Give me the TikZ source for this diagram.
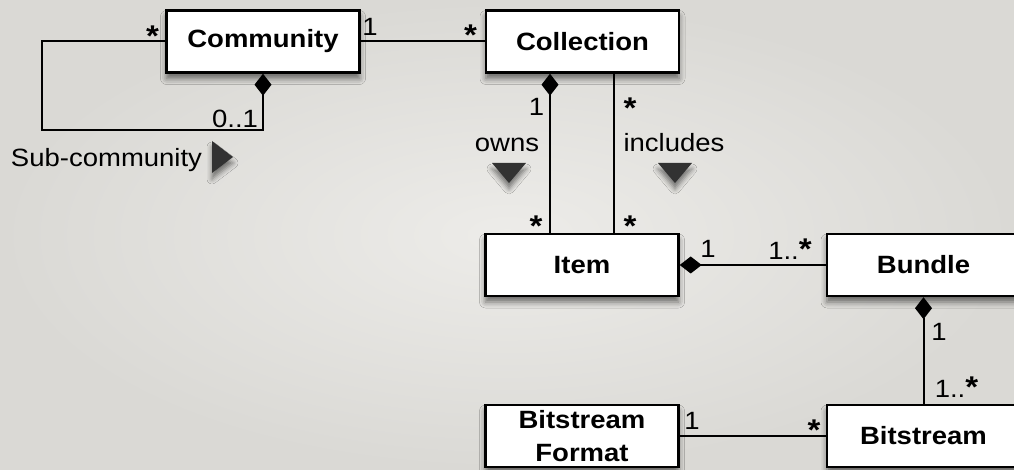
\documentclass[tikz,border=0pt]{standalone}
\usepackage{fontspec}
\setmainfont{Liberation Sans}[FakeStretch=1.1]
\usetikzlibrary{arrows.meta,shadows.blur}
\definecolor{bgin}{RGB}{237,236,233}
\definecolor{bgout}{RGB}{218,217,213}
\definecolor{tricol}{RGB}{50,50,50}
\newcommand\myast{{\bfseries\fontsize{30}{30}\selectfont *}}
\begin{document}
\begin{tikzpicture}[x=1pt,y=-1pt,
  box/.style={draw=black, line width=2.4pt, fill=white, minimum width=193pt, minimum height=62pt,
    inner sep=0pt, align=center, font=\bfseries\fontsize{25}{33}\selectfont,
    blur shadow={shadow xshift=0pt, shadow yshift=-6pt, shadow blur radius=6pt, shadow opacity=55}},
  lbl/.style={font=\fontsize{25}{30}\selectfont, inner sep=0pt, anchor=base},
  conn/.style={line width=2pt, draw=black},
  dmd/.style={{Diamond[length=22pt,width=17pt]}-},
  tri/.style={fill=tricol, blur shadow={shadow xshift=0pt, shadow yshift=-6pt, shadow blur radius=5pt, shadow opacity=50}}
]
\useasboundingbox (0,0) rectangle (1014,470);
\shade[inner color=bgin, outer color=bgout] (0,0) rectangle (1014,470);

% boxes
\node[box] (community) at (263,41.5) {Community};
\node[box] (collection) at (582.5,41.5) {Collection};
\node[box] (item) at (582,265) {Item};
\node[box] (bundle) at (923.5,265) {Bundle};
\node[box] (bsformat) at (582,436) {Bitstream\\Format};
\node[box] (bitstream) at (923.5,436) {Bitstream};

% connectors
\coordinate (loopA) at (263,130);
\coordinate (loopB) at (42,130);
\coordinate (loopC) at (42,41.5);
\draw[conn, dmd] (community.south) -- (loopA) -- (loopB) -- (loopC) -- (community.west);
\draw[conn] (community.east) -- (collection.west);
\draw[conn, dmd] ([xshift=-32.5pt]collection.south) -- ([xshift=-32pt]item.north);
\draw[conn] ([xshift=31.5pt]collection.south) -- ([xshift=32pt]item.north);
\draw[conn, dmd] (item.east) -- (bundle.west);
\draw[conn, dmd] (bundle.south) -- (bitstream.north);
\draw[conn] (bsformat.east) -- (bitstream.west);

% direction triangles
\fill[tri] (212,141) -- (212,173) -- (233,157) -- cycle;
\fill[tri] (492,163) -- (526,163) -- (509,183) -- cycle;
\fill[tri] (658,163) -- (692,163) -- (675,183) -- cycle;

% labels
\node[lbl] (l1) at (152.5,47) {\myast};
\node[lbl] (l2) at (370,36) {1};
\node[lbl] (l3) at (470.5,45.5) {\myast};
\node[lbl] (l4) at (536.5,116) {1};
\node[lbl] (l5) at (630,119) {\myast};
\node[lbl] (l6) at (507,152) {owns};
\node[lbl] (l7) at (674,152) {includes};
\node[lbl] (l8) at (536,237) {\myast};
\node[lbl] (l9) at (630,237) {\myast};
\node[lbl] (l10) at (235,128) {0..1};
\node[lbl] (l11) at (106.5,167) {Sub-community};
\node[lbl] (l12) at (708,258) {1};
\node[lbl] (l13) at (790,260) {1..\myast};
\node[lbl] (l14) at (939,340) {1};
\node[lbl] (l15) at (956.5,397) {1..\myast};
\node[lbl] (l16) at (692,429) {1};
\node[lbl] (l17) at (814,440) {\myast};
\end{tikzpicture}
\end{document}
